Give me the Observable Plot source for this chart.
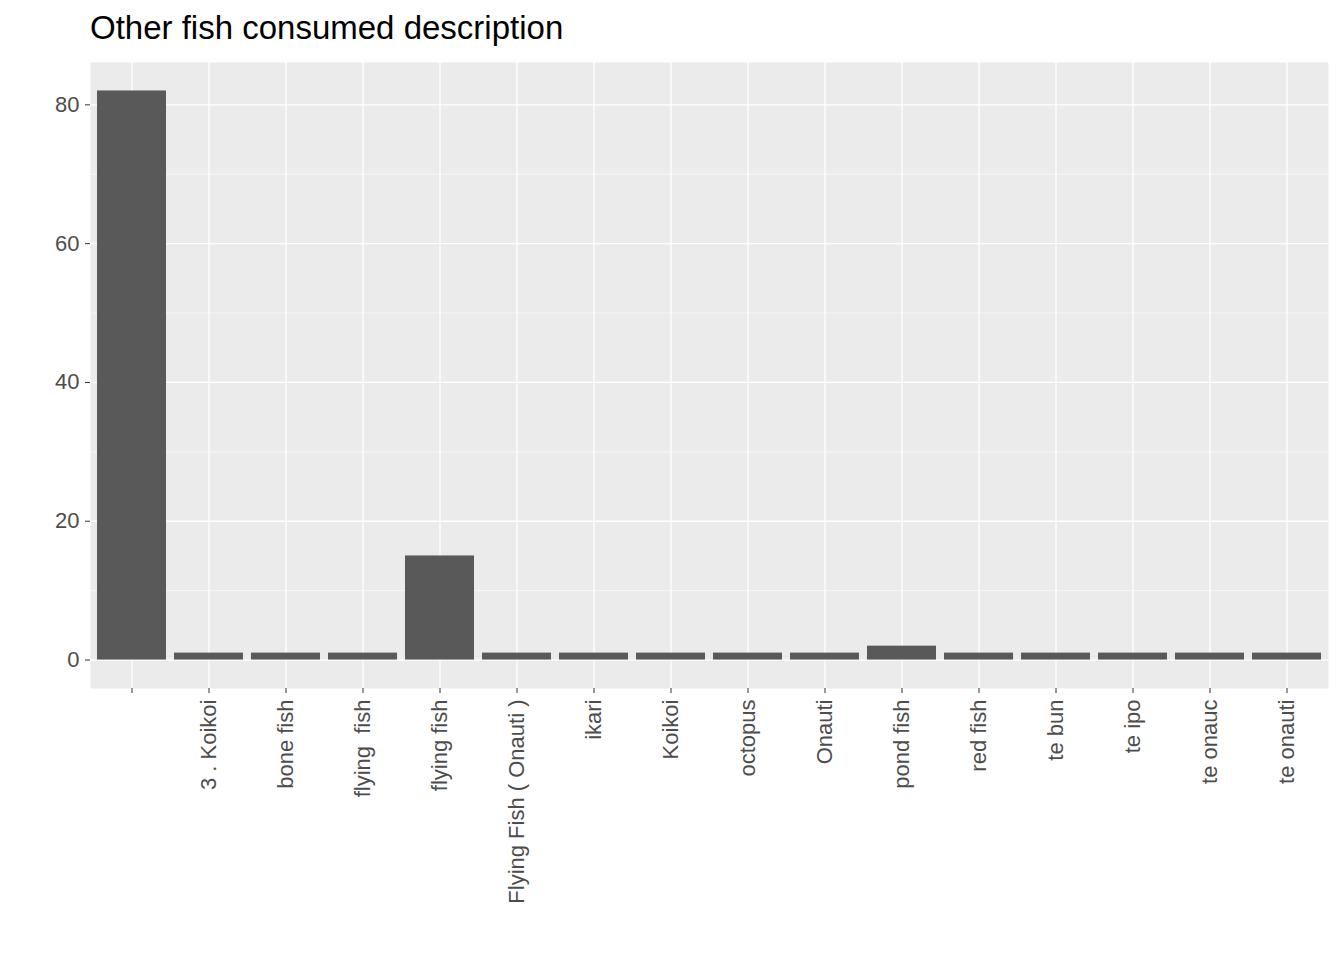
<!DOCTYPE html>
<html><head><meta charset="utf-8">
<script src="https://cdn.jsdelivr.net/npm/d3@7"></script>
<script src="https://cdn.jsdelivr.net/npm/@observablehq/plot@0.6"></script>
<style>
body{margin:0;background:#fff;font-family:"Liberation Sans",Arial,sans-serif;}
#wrap{position:relative;width:1344px;height:960px;}
#title{position:absolute;left:90px;top:9px;font-size:33px;color:#000;}
svg text{font-size:22px;}
</style></head>
<body><div id="wrap"><div id="title">Other fish consumed description</div><div id="chart"></div></div>
<script>
// categories and counts
const fish = ["", "3 . Koikoi", "bone fish", "flying\u00a0 fish", "flying fish", "Flying Fish ( Onauti )", "ikari", "Koikoi", "octopus", "Onauti", "pond fish", "red fish", "te bun", "te ipo", "te onauc", "te onauti"];
const counts = [82, 1, 1, 1, 15, 1, 1, 1, 1, 1, 2, 1, 1, 1, 1, 1];
const majorTicks = [0, 20, 40, 60, 80];
const minorTicks = [10, 30, 50, 70];

const data = fish.map((f, i) => ({fish: f, n: counts[i]}));

const plot = Plot.plot({
  width: 1344, height: 960,
  marginTop: 62, marginBottom: 272, marginLeft: 90, marginRight: 16,
  style: {fontFamily: "Liberation Sans, Arial, sans-serif", fontSize: "22px", color: "#4D4D4D"},
  x: {domain: fish, paddingInner: 0.1, paddingOuter: 0.03, label: null},
  y: {domain: [-4.1, 86.1], label: null},
  marks: [
    Plot.frame({fill: "#EBEBEB", stroke: null}),
    Plot.ruleY(minorTicks, {stroke: "#fff", strokeWidth: 0.6}),
    Plot.ruleY(majorTicks, {stroke: "#fff", strokeWidth: 1.3}),
    Plot.ruleX(fish, {x: d => d, stroke: "#fff", strokeWidth: 1.3}),
    Plot.barY(data, {x: "fish", y: "n", fill: "#595959"}),
    Plot.axisY({ticks: majorTicks, tickSize: 5, tickPadding: 6, stroke: "#333", fill: "#4D4D4D"}),
    Plot.axisX({tickRotate: -90, tickSize: 5, tickPadding: 6, stroke: "#333", fill: "#4D4D4D"})
  ]
});
document.getElementById("chart").appendChild(plot);
</script></body></html>
